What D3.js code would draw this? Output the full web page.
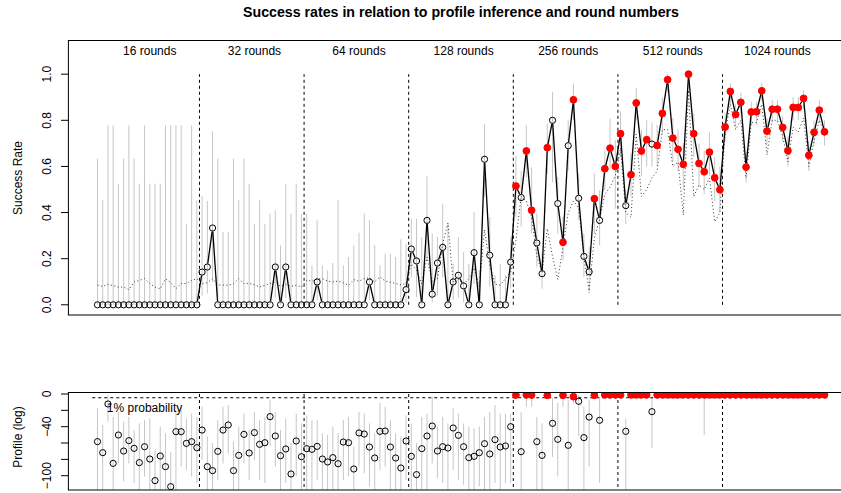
<!DOCTYPE html>
<html>
<head>
<meta charset="utf-8">
<script src="https://cdn.jsdelivr.net/npm/d3@7"></script>
<style>
  body { margin: 0; background: #fff; }
  svg { display: block; font-family: "Liberation Sans", Arial, Helvetica, sans-serif; }
</style>
</head>
<body>
<div id="chart"></div>
<script>
// group names, 20 profiles per group
const groups = ["16 rounds", "32 rounds", "64 rounds", "128 rounds", "256 rounds", "512 rounds", "1024 rounds"];
const groupSize = 20;

// observed success rate per profile
const successRate = [
  0,0,0,0,0,0,0,0,0,0,0,0,0,0,0,0,0,0,0,0,
  0.142,0.164,0.333,0,0,0,0,0,0,0,0,0,0,0,0.164,0,0.164,0,0,0,
  0,0,0.099,0,0,0,0,0,0,0,0,0,0.099,0,0,0,0,0,0,0.066,
  0.242,0.190,0,0.366,0.046,0.181,0.249,0,0.099,0.128,0.082,0,0.226,0,0.631,0.215,0,0,0,0.185,
  0.515,0.465,0.667,0.410,0.268,0.135,0.681,0.800,0.439,0.271,0.690,0.889,0.462,0.210,0.143,0.460,0.366,0.590,0.679,0.600,
  0.742,0.430,0.564,0.875,0.667,0.716,0.697,0.691,0.830,0.976,0.723,0.674,0.609,1.000,0.742,0.613,0.577,0.662,0.551,0.499,
  0.771,0.925,0.825,0.878,0.597,0.836,0.837,0.928,0.753,0.848,0.848,0.769,0.668,0.856,0.856,0.895,0.648,0.748,0.844,0.750
];

// dotted reference line
const baseline = [
  0.085,0.080,0.089,0.083,0.077,0.077,0.066,0.099,0.106,0.113,0.092,0.077,0.069,0.113,0.096,0.070,0.092,0.092,0.106,0.113,
  0.092,0.096,0.113,0.087,0.085,0.085,0.092,0.113,0.092,0.092,0.087,0.077,0.085,0.092,0.099,0.080,0.089,0.080,0.085,0.077,
  0.106,0.103,0.113,0.113,0.103,0.099,0.103,0.095,0.085,0.109,0.102,0.113,0.118,0.099,0.121,0.103,0.098,0.092,0.087,0.092,
  0.178,0.150,0.090,0.207,0.100,0.113,0.265,0.355,0.096,0.110,0.090,0.113,0.160,0.077,0.326,0.170,0.090,0.085,0.113,0.142,
  0.28,0.47,0.45,0.38,0.21,0.14,0.33,0.21,0.11,0.25,0.40,0.45,0.42,0.21,0.06,0.29,0.37,0.48,0.51,0.56,
  0.68,0.40,0.38,0.74,0.47,0.50,0.55,0.58,0.76,0.76,0.60,0.62,0.39,0.93,0.47,0.52,0.50,0.55,0.36,0.40,
  0.75,0.87,0.76,0.80,0.55,0.79,0.79,0.87,0.65,0.80,0.80,0.73,0.62,0.77,0.75,0.81,0.60,0.71,0.80,0.74
];

// interval of the success rate
const rateLow = [
  0,0,0,0,0,0,0,0,0,0,0,0,0,0,0,0,0,0,0,0,
  0.04,0.05,0.10,0,0,0,0,0,0,0,0,0,0,0,0.03,0,0.03,0,0,0,
  0,0,0.02,0,0,0,0,0,0,0,0,0,0.02,0,0,0,0,0,0,0.01,
  0.12,0.034,0,0.193,0.01,0.04,0.12,0,0.02,0.03,0.01,0,0.09,0,0.467,0.08,0,0,0,0.07,
  0.381,0.34,0.554,0.309,0.164,0.07,0.568,0.532,0.308,0.193,0.583,0.80,0.366,0.12,0.048,0.308,0.258,0.496,0.583,0.417,
  0.64,0.35,0.47,0.80,0.56,0.60,0.60,0.60,0.74,0.92,0.62,0.58,0.50,0.95,0.64,0.51,0.48,0.56,0.45,0.40,
  0.71,0.87,0.77,0.83,0.53,0.78,0.78,0.88,0.69,0.79,0.79,0.71,0.60,0.80,0.80,0.85,0.58,0.69,0.79,0.69
];
const rateHigh = [
  0.634,0.453,0.778,0.778,0.525,0.634,0.778,0.634,0.525,0.778,0.525,0.525,0.525,0.778,0.778,0.778,0.778,0.351,0.778,0.453,
  0.472,0.45,0.752,0.634,0.316,0.316,0.634,0.453,0.634,0.525,0.351,0.453,0.351,0.395,0.41,0.258,0.522,0.395,0.525,0.395,
  0.395,0.171,0.366,0.171,0.15,0.181,0.453,0.171,0.207,0.258,0.313,0.395,0.366,0.258,0.171,0.222,0.222,0.207,0.284,0.265,
  0.373,0.373,0.294,0.558,0.308,0.294,0.439,0.355,0.178,0.294,0.229,0.178,0.402,0.15,0.782,0.38,0.128,0.178,0.128,0.294,
  0.648,0.58,0.778,0.597,0.395,0.222,0.785,0.922,0.554,0.381,0.80,0.959,0.569,0.308,0.25,0.569,0.496,0.67,0.807,0.713,
  0.84,0.50,0.66,0.94,0.76,0.80,0.79,0.78,0.90,1.0,0.81,0.76,0.70,1.0,0.83,0.70,0.67,0.75,0.64,0.60,
  0.83,0.96,0.87,0.92,0.66,0.88,0.88,0.96,0.81,0.89,0.89,0.82,0.73,0.90,0.90,0.93,0.71,0.80,0.89,0.80
];

// profile log-likelihood and its interval
const profile = [
  -58.3,-71.8,-12.2,-84.9,-50.2,-69.8,-57.1,-66.5,-84,-64.5,-79.6,-106,-75.9,-88.9,-113.4,-46.1,-46.1,-60.4,-58.3,-65.7,
  -44.1,-88.9,-93.8,-70.2,-44.1,-37.9,-93.8,-75.1,-49.4,-72.2,-47.3,-61.6,-59.6,-27.7,-51.4,-75.5,-67.3,-97.9,-57.5,-76.7,
  -66.9,-67.7,-64.1,-79.6,-83.2,-77.9,-85.3,-58.8,-59.6,-91.8,-47.7,-49,-64.9,-78.3,-45.7,-45.3,-64.9,-78.3,-90.6,-57.5,
  -76.3,-98.7,-66.9,-51.4,-39.2,-69.8,-64.5,-66.1,-41.6,-50.6,-64.5,-77.9,-76.3,-71.8,-60.8,-73.4,-55.9,-64.9,-63.6,-40,
  -1.2,-70.6,-1.0,-1.2,-58.3,-75.1,-1.5,-35.9,-55.5,-1.5,-62.8,-3.3,-9,-53.4,-28.2,-1.5,-32.2,-1.0,-1.0,-1.0,
  -1.0,-45.7,-1.0,-1.0,-1.0,-1.0,-21.6,-1.0,-1.0,-1.0,-1.0,-1.0,-1.0,-1.0,-1.0,-1.0,-1.0,-1.0,-1.0,-1.0,
  -1.0,-1.0,-1.0,-1.0,-1.0,-1.0,-1.0,-1.0,-1.0,-1.0,-1.0,-1.0,-1.0,-1.0,-1.0,-1.0,-1.0,-1.0,-1.0,-1.0
];
const profileHigh = [
  -17.5,-38,-2,-28,-22,-34,-28,-44,-36,-32,-30,-69,-40,-48,-71,-20,-15.5,-30,-24,-28,
  -15.5,-52,-60,-32,-15.5,-13.5,-58,-40,-24,-44,-22,-32,-28,-7,-22,-44,-30,-60,-24,-36,
  -26,-32,-32,-48,-50,-40,-48,-32,-28,-64,-22,-24,-36,-48,-11,-15.5,-32,-48,-52,-26,
  -36,-60,-28,-24,-3,-40,-28,-36,-17.5,-24,-36,-40,-42,-40,-28,-22,-13.5,-24,-24,-24,
  -0.5,-22,-0.5,-0.5,-28,-36,-0.5,-5,-11,-0.5,-7,-1,-1,-15.5,-7,-0.5,-5,-0.5,-0.5,-0.5,
  -0.5,-30,-0.5,-0.5,-0.5,-0.5,-3,-0.5,-0.5,-0.5,-0.5,-0.5,-0.5,-0.5,-0.5,-0.5,-0.5,-0.5,-0.5,-0.5,
  -0.5,-0.5,-0.5,-0.5,-0.5,-0.5,-0.5,-0.5,-0.5,-0.5,-0.5,-0.5,-0.5,-0.5,-0.5,-0.5,-0.5,-0.5,-0.5,-0.5
];
const profileLow = [
  -125,-125,-34,-125,-85,-107,-85,-109,-125,-101,-125,-125,-125,-125,-125,-125,-89,-93,-101,-109,
  -81,-125,-125,-105,-85,-73,-125,-125,-85,-105,-81,-105,-109,-64,-89,-125,-109,-125,-101,-125,
  -125,-125,-105,-125,-125,-125,-125,-105,-101,-125,-89,-97,-113,-125,-93,-89,-125,-125,-125,-105,
  -125,-125,-125,-125,-85,-103,-109,-125,-93,-105,-111,-125,-125,-113,-125,-125,-109,-125,-109,-109,
  -5,-125,-15.5,-15.5,-125,-125,-3,-77,-101,-15.5,-125,-11,-52,-125,-89,-5,-109,-3,-3,-3,
  -3,-125,-3,-3,-3,-3,-66,-3,-3,-3,-3,-3,-3,-3,-3,-3,-50,-3,-3,-3,
  -2.5,-2.5,-2.5,-2.5,-2.5,-2.5,-2.5,-2.5,-2.5,-2.5,-2.5,-2.5,-2.5,-2.5,-2.5,-2.5,-2.5,-2.5,-2.5,-2.5
];

const threshold = Math.log(0.01);
const rateTicks = [0, 0.2, 0.4, 0.6, 0.8, 1.0];
const profileTicks = [0, -20, -40, -60, -80, -100];
const profileLabels = [0, -40, -100];

const data = successRate.map(function(v, i) {
  return {
    idx: i + 1, rate: v, base: baseline[i], lo: rateLow[i], hi: rateHigh[i],
    prof: profile[i], pLo: profileLow[i], pHi: profileHigh[i],
    hit: profile[i] > threshold
  };
});

const width = 841, height = 493;
const svg = d3.select("#chart").append("svg")
    .attr("width", width).attr("height", height);

const x = d3.scaleLinear().domain([-4.56, 145.56]).range([68.4, 853.6]);
const yTop = d3.scaleLinear().domain([-0.0442, 1.1482]).range([315, 40]);
const yBot = d3.scaleLinear().domain([-117.5, 2.45]).range([490, 392]);

const grey = "#c6c6c6";
const boundaries = d3.range(1, groups.length).map(function(g) { return g * groupSize + 0.5; });

svg.append("defs").append("clipPath").attr("id", "clipBot")
  .append("rect").attr("x", 68).attr("y", 392).attr("width", width - 68).attr("height", 98);

// ---------- top panel ----------
const topPanel = svg.append("g");

topPanel.selectAll(".bar").data(data).enter().append("line")
    .attr("x1", function(d) { return x(d.idx); })
    .attr("x2", function(d) { return x(d.idx); })
    .attr("y1", function(d) { return yTop(d.lo); })
    .attr("y2", function(d) { return yTop(d.hi); })
    .attr("stroke", grey).attr("stroke-width", 1);

topPanel.selectAll(".sep").data(boundaries).enter().append("line")
    .attr("x1", function(d) { return x(d); })
    .attr("x2", function(d) { return x(d); })
    .attr("y1", yTop(0)).attr("y2", yTop(1))
    .attr("stroke", "#000").attr("stroke-dasharray", "3,3");

topPanel.append("path")
    .datum(data)
    .attr("fill", "none").attr("stroke", "#333").attr("stroke-width", 1)
    .attr("stroke-dasharray", "1,2.5")
    .attr("d", d3.line().x(function(d) { return x(d.idx); }).y(function(d) { return yTop(d.base); }));

// R type="b": segments stop short of the points
const gap = 3.6;
const segs = [];
for (let i = 1; i < data.length; i++) {
  let x1 = x(data[i - 1].idx), y1 = yTop(data[i - 1].rate);
  let x2 = x(data[i].idx), y2 = yTop(data[i].rate);
  let len = Math.hypot(x2 - x1, y2 - y1);
  if (len <= 2 * gap) continue;
  let ux = (x2 - x1) / len, uy = (y2 - y1) / len;
  segs.push([x1 + ux * gap, y1 + uy * gap, x2 - ux * gap, y2 - uy * gap]);
}
topPanel.selectAll(".seg").data(segs).enter().append("line")
    .attr("x1", function(d) { return d[0]; })
    .attr("y1", function(d) { return d[1]; })
    .attr("x2", function(d) { return d[2]; })
    .attr("y2", function(d) { return d[3]; })
    .attr("stroke", "#000").attr("stroke-width", 1.3);

topPanel.selectAll(".pt").data(data).enter().append("circle")
    .attr("cx", function(d) { return x(d.idx); })
    .attr("cy", function(d) { return yTop(d.rate); })
    .attr("r", function(d) { return d.hit ? 3.4 : 3.1; })
    .attr("fill", function(d) { return d.hit ? "#ff0000" : "none"; })
    .attr("stroke", function(d) { return d.hit ? "#ff0000" : "#000"; })
    .attr("stroke-width", 1);

topPanel.selectAll(".glabel").data(groups).enter().append("text")
    .attr("x", function(d, i) { return x(i * groupSize + 11); })
    .attr("y", 55)
    .attr("text-anchor", "middle")
    .attr("font-size", 12)
    .text(function(d) { return d; });

topPanel.append("rect")
    .attr("x", 68.4).attr("y", 40.5).attr("width", 900).attr("height", 274.5)
    .attr("fill", "none").attr("stroke", "#000").attr("stroke-width", 1);

const axTop = topPanel.append("g");
axTop.selectAll("line").data(rateTicks).enter().append("line")
    .attr("x1", 61).attr("x2", 68.4)
    .attr("y1", function(d) { return yTop(d); })
    .attr("y2", function(d) { return yTop(d); })
    .attr("stroke", "#000");
axTop.selectAll("text").data(rateTicks).enter().append("text")
    .attr("transform", function(d) { return "translate(46.7," + yTop(d) + ") rotate(-90)"; })
    .attr("dy", "0.35em")
    .attr("text-anchor", "middle")
    .attr("font-size", 12)
    .text(function(d) { return d3.format(".1f")(d); });

svg.append("text")
    .attr("transform", "translate(18," + 178 + ") rotate(-90)")
    .attr("dy", "0.35em").attr("text-anchor", "middle").attr("font-size", 12)
    .text("Success Rate");

svg.append("text")
    .attr("x", 461).attr("y", 17)
    .attr("text-anchor", "middle").attr("font-size", 14.2).attr("font-weight", "bold")
    .text("Success rates in relation to profile inference and round numbers");

// ---------- bottom panel ----------
const botPanel = svg.append("g").attr("clip-path", "url(#clipBot)");

botPanel.selectAll(".bar").data(data).enter().append("line")
    .attr("x1", function(d) { return x(d.idx); })
    .attr("x2", function(d) { return x(d.idx); })
    .attr("y1", function(d) { return yBot(d.pLo); })
    .attr("y2", function(d) { return yBot(d.pHi); })
    .attr("stroke", grey).attr("stroke-width", 1);

botPanel.selectAll(".sep").data(boundaries).enter().append("line")
    .attr("x1", function(d) { return x(d); })
    .attr("x2", function(d) { return x(d); })
    .attr("y1", yBot(0)).attr("y2", yBot(-130))
    .attr("stroke", "#000").attr("stroke-dasharray", "3,3");

botPanel.append("line")
    .attr("x1", x(0)).attr("x2", x(141))
    .attr("y1", yBot(threshold)).attr("y2", yBot(threshold))
    .attr("stroke", "#000").attr("stroke-dasharray", "3,3");

botPanel.selectAll(".pt").data(data).enter().append("circle")
    .attr("cx", function(d) { return x(d.idx); })
    .attr("cy", function(d) { return yBot(d.prof); })
    .attr("r", function(d) { return d.hit ? 3.4 : 3.1; })
    .attr("fill", function(d) { return d.hit ? "#ff0000" : "none"; })
    .attr("stroke", function(d) { return d.hit ? "#ff0000" : "#000"; })
    .attr("stroke-width", 1);

botPanel.append("text")
    .attr("x", x(10)).attr("y", yBot(-17))
    .attr("dy", "0.35em").attr("text-anchor", "middle").attr("font-size", 12)
    .text("1% probability");

svg.append("rect")
    .attr("x", 68.4).attr("y", 392.5).attr("width", 900).attr("height", 97.5)
    .attr("fill", "none").attr("stroke", "#000").attr("stroke-width", 1);

const axBot = svg.append("g");
axBot.selectAll("line").data(profileTicks).enter().append("line")
    .attr("x1", 61).attr("x2", 68.4)
    .attr("y1", function(d) { return yBot(d); })
    .attr("y2", function(d) { return yBot(d); })
    .attr("stroke", "#000");
axBot.selectAll("text").data(profileLabels).enter().append("text")
    .attr("transform", function(d) { return "translate(46.7," + yBot(d) + ") rotate(-90)"; })
    .attr("dy", "0.35em")
    .attr("text-anchor", "middle")
    .attr("font-size", 12)
    .text(function(d) { return d < 0 ? "\u2212" + Math.abs(d) : String(d); });

svg.append("text")
    .attr("transform", "translate(18," + 437 + ") rotate(-90)")
    .attr("dy", "0.35em").attr("text-anchor", "middle").attr("font-size", 12)
    .text("Profile (log)");
</script>
</body>
</html>
